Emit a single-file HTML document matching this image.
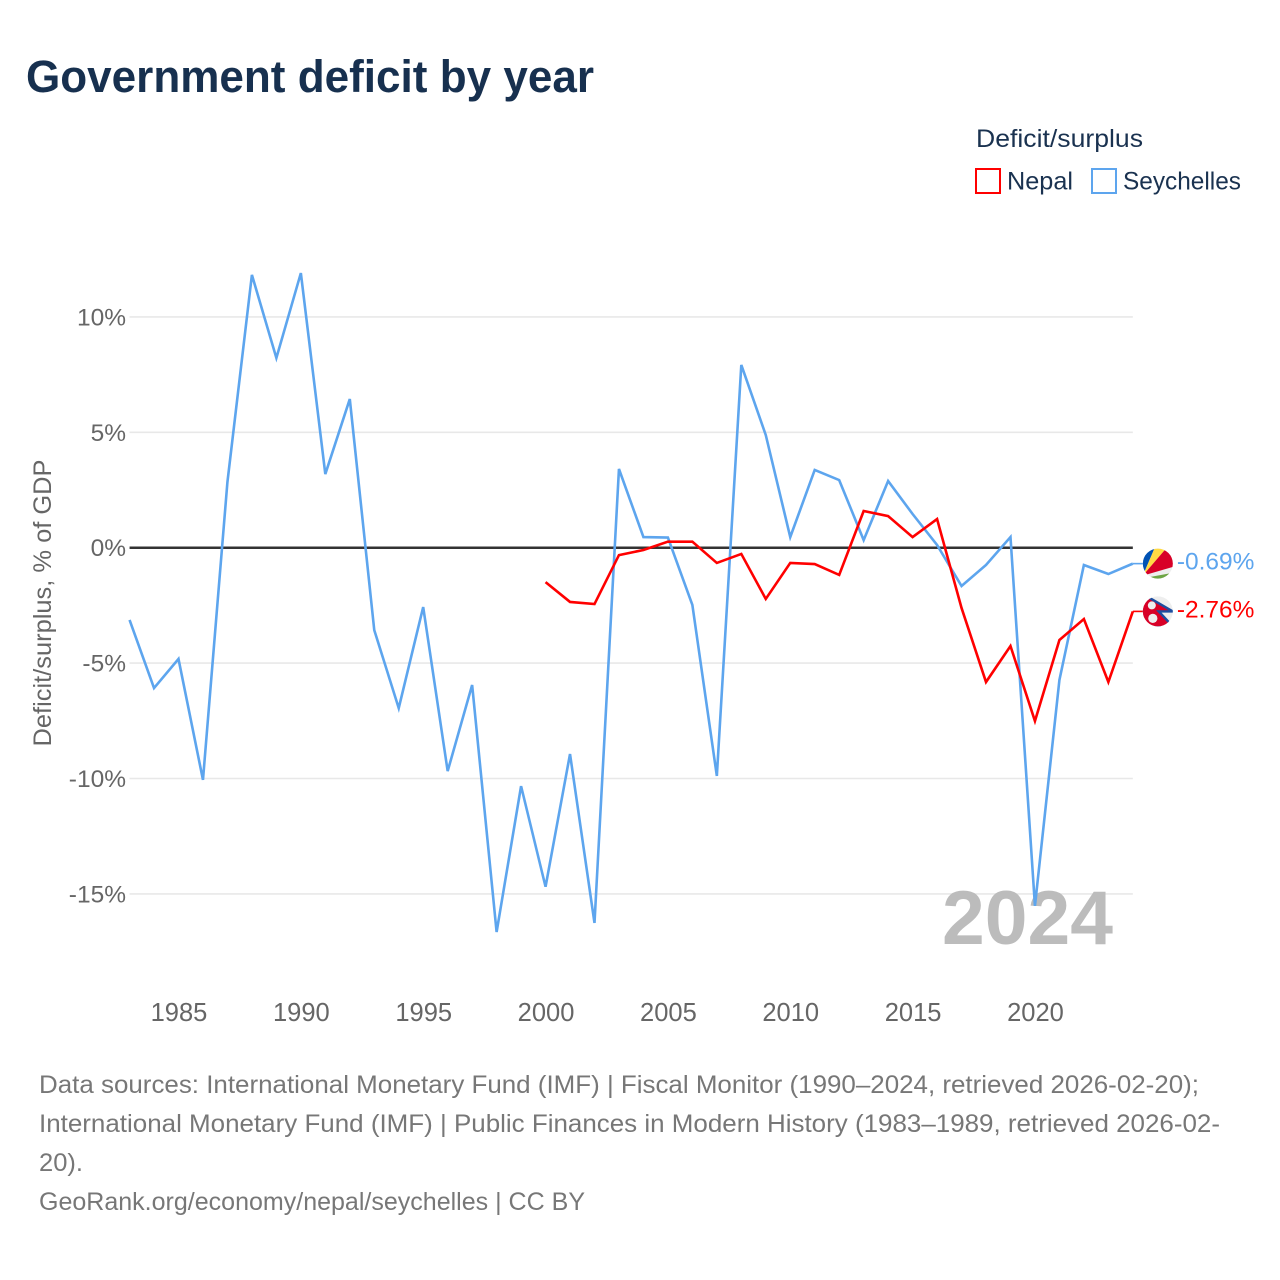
<!DOCTYPE html>
<html lang="en">
<head>
<meta charset="utf-8">
<title>Government deficit by year</title>
<style>
  html, body { margin: 0; padding: 0; background: #fff; }
  svg { display: block; font-family: "Liberation Sans", sans-serif; }
</style>
</head>
<body>
<svg id="chart" xmlns="http://www.w3.org/2000/svg" width="1280" height="1280" viewBox="0 0 1280 1280">
  <defs>
    <clipPath id="flag-clip"><circle cx="0" cy="0" r="15"></circle></clipPath>
  </defs>
  <rect x="0" y="0" width="1280" height="1280" fill="#ffffff"></rect>
  <text x="26" y="92" font-size="45" font-weight="700" fill="#17304f" textLength="568" lengthAdjust="spacingAndGlyphs">Government deficit by year</text>

  <g>
    <text x="976" y="147" font-size="25" fill="#1a3250" textLength="167" lengthAdjust="spacingAndGlyphs">Deficit/surplus</text>
    <g>
      <rect x="976" y="169" width="24" height="24" fill="#fff" stroke="#ff0000" stroke-width="2"></rect>
      <text x="1007" y="189.5" font-size="25" fill="#1a3250" textLength="66" lengthAdjust="spacingAndGlyphs">Nepal</text>
    </g>
    <g>
      <rect x="1092" y="169" width="24" height="24" fill="#fff" stroke="#5da5ee" stroke-width="2"></rect>
      <text x="1123" y="189.5" font-size="25" fill="#1a3250" textLength="118" lengthAdjust="spacingAndGlyphs">Seychelles</text>
    </g>
  </g>

  <text transform="translate(51,603) rotate(-90)" text-anchor="middle" font-size="25" fill="#666666" textLength="287" lengthAdjust="spacingAndGlyphs">Deficit/surplus, % of GDP</text>

  <g id="grid"></g>
  <g id="y-ticks"></g>
  <g id="x-ticks"></g>

  <text x="942" y="944" font-size="76" font-weight="700" fill="#bcbcbc" textLength="171" lengthAdjust="spacingAndGlyphs">2024</text>

  <g id="series"></g>

  <g id="flag-seychelles">
    <g clip-path="url(#flag-clip)">
      <rect x="-16" y="-16" width="32" height="32" fill="#eeeeee"></rect>
      <polygon points="-15,12 -16,-16 -3,-16" fill="#0052b4"></polygon>
      <polygon points="-15,12 -3,-16 9,-16" fill="#ffda44"></polygon>
      <polygon points="-15,12 9,-16 16,-16 16,3" fill="#d80027"></polygon>
      <polygon points="-14,14.5 16,9 16,16 -14,16" fill="#6da544"></polygon>
    </g>
  </g>
  <g id="flag-nepal">
    <g clip-path="url(#flag-clip)">
      <rect x="-16" y="-16" width="32" height="32" fill="#eeeeee"></rect>
      <polygon points="-16,-18 15,0 1,0 15,15 -16,17" fill="#d80027" stroke="#1d4ea0" stroke-width="2.4"></polygon>
      <circle cx="-6" cy="-6" r="4" fill="#eeeeee"></circle>
      <circle cx="-5" cy="7" r="4.6" fill="#eeeeee"></circle>
    </g>
  </g>

  <g font-size="25" fill="#777777">
    <text x="39" y="1093" textLength="1160" lengthAdjust="spacingAndGlyphs">Data sources: International Monetary Fund (IMF) | Fiscal Monitor (1990–2024, retrieved 2026-02-20);</text>
    <text x="39" y="1132" textLength="1181" lengthAdjust="spacingAndGlyphs">International Monetary Fund (IMF) | Public Finances in Modern History (1983–1989, retrieved 2026-02-</text>
    <text x="39" y="1171" textLength="44" lengthAdjust="spacingAndGlyphs">20).</text>
    <text x="39" y="1210" textLength="546" lengthAdjust="spacingAndGlyphs">GeoRank.org/economy/nepal/seychelles | CC BY</text>
  </g>
</svg>

<script>
const years = [1983,1984,1985,1986,1987,1988,1989,1990,1991,1992,1993,1994,1995,1996,1997,1998,1999,2000,2001,2002,2003,2004,2005,2006,2007,2008,2009,2010,2011,2012,2013,2014,2015,2016,2017,2018,2019,2020,2021,2022,2023,2024];
const seychellesValues = [-3.13,-6.08,-4.82,-10.06,2.85,11.82,8.22,11.9,3.19,6.44,-3.57,-6.95,-2.57,-9.68,-5.95,-16.65,-10.33,-14.69,-8.94,-16.26,3.41,0.46,0.44,-2.48,-9.89,7.92,4.88,0.46,3.37,2.93,0.33,2.89,1.46,0.12,-1.66,-0.75,0.46,-15.52,-5.73,-0.75,-1.14,-0.69];
const nepalValues = [null,null,null,null,null,null,null,null,null,null,null,null,null,null,null,null,null,-1.49,-2.35,-2.44,-0.32,-0.1,0.26,0.26,-0.66,-0.27,-2.22,-0.66,-0.71,-1.18,1.59,1.37,0.46,1.24,-2.61,-5.82,-4.26,-7.51,-4,-3.09,-5.82,-2.76];
const yTickValues = [10,5,0,-5,-10,-15];
const xTickValues = [1985,1990,1995,2000,2005,2010,2015,2020];

const SVG_NS = 'http://www.w3.org/2000/svg';
function xScale(year) { return 178.5 + (year - 1985) * 24.47; }
function yScale(value) { return 547.7 - value * 23.08; }

const gridGroup = document.getElementById('grid');
const yTickGroup = document.getElementById('y-ticks');
yTickValues.forEach(function (tick) {
  const line = document.createElementNS(SVG_NS, 'line');
  
  
  line.setAttribute('x1', xScale(years[0]));
  line.setAttribute('x2', xScale(years[years.length - 1]));
  line.setAttribute('y1', yScale(tick));
  line.setAttribute('y2', yScale(tick));
  line.setAttribute('stroke', tick === 0 ? '#333333' : '#e8e8e8');
  line.setAttribute('stroke-width', tick === 0 ? '2.5' : '1.6');
  gridGroup.appendChild(line);

  const label = document.createElementNS(SVG_NS, 'text');
  
  
  label.setAttribute('x', 126);
  label.setAttribute('y', yScale(tick) + 8.5);
  label.setAttribute('text-anchor', 'end');
  label.setAttribute('font-size', '24.5');
  label.setAttribute('fill', '#666666');
  label.textContent = tick + '%';
  yTickGroup.appendChild(label);
});

const xTickGroup = document.getElementById('x-ticks');
xTickValues.forEach(function (tick) {
  const label = document.createElementNS(SVG_NS, 'text');
  
  
  label.setAttribute('x', xScale(tick) + 0.5);
  label.setAttribute('y', 1021);
  label.setAttribute('text-anchor', 'middle');
  label.setAttribute('font-size', '25.5');
  label.setAttribute('fill', '#666666');
  label.textContent = tick;
  xTickGroup.appendChild(label);
});

function drawSeries(values, color, lineName, tailName, labelName, flagId) {
  const group = document.getElementById('series');
  const points = [];
  values.forEach(function (value, index) {
    if (value !== null) {
      points.push(xScale(years[index]).toFixed(2) + ',' + yScale(value).toFixed(2));
    }
  });
  const lastValue = values[values.length - 1];
  const lastX = xScale(years[years.length - 1]);
  const lastY = yScale(lastValue);

  const line = document.createElementNS(SVG_NS, 'polyline');
  
  
  line.setAttribute('points', points.join(' '));
  line.setAttribute('fill', 'none');
  line.setAttribute('stroke', color);
  line.setAttribute('stroke-width', '2.6');
  line.setAttribute('stroke-linejoin', 'miter');
  group.appendChild(line);

  const tail = document.createElementNS(SVG_NS, 'line');
  
  
  tail.setAttribute('x1', lastX);
  tail.setAttribute('x2', lastX + 10);
  tail.setAttribute('y1', lastY);
  tail.setAttribute('y2', lastY);
  tail.setAttribute('stroke', color);
  tail.setAttribute('stroke-width', '1.6');
  group.appendChild(tail);

  const label = document.createElementNS(SVG_NS, 'text');
  
  
  label.setAttribute('x', lastX + 44);
  label.setAttribute('y', lastY + 6);
  label.setAttribute('font-size', '24.5');
  label.setAttribute('fill', color);
  label.textContent = lastValue.toFixed(2) + '%';
  group.appendChild(label);

  document.getElementById(flagId).setAttribute('transform', 'translate(' + (lastX + 25) + ',' + lastY + ')');
}

drawSeries(seychellesValues, '#5da5ee', 'seychelles-line', 'seychelles-end-connector', 'seychelles-end-label', 'flag-seychelles');
drawSeries(nepalValues, '#ff0000', 'nepal-line', 'nepal-end-connector', 'nepal-end-label', 'flag-nepal');
</script>
</body>
</html>
